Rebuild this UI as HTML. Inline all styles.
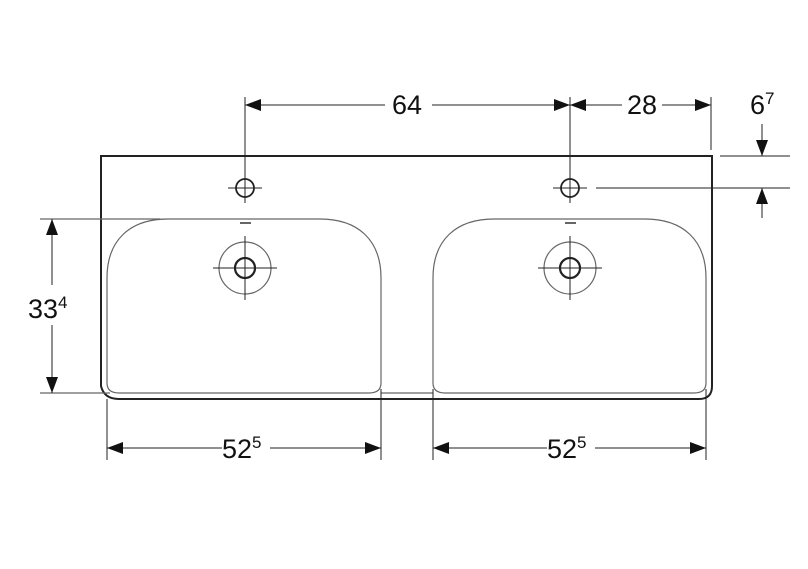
<!DOCTYPE html>
<html><head><style>body{margin:0;background:#fff}svg{display:block}text{font-family:"Liberation Sans",sans-serif;fill:#111}</style></head><body>
<svg width="808" height="569" viewBox="0 0 808 569" xmlns="http://www.w3.org/2000/svg">
<defs>
<marker id="a" viewBox="0 0 16 12" refX="16" refY="6" markerWidth="16" markerHeight="12" markerUnits="userSpaceOnUse" orient="auto-start-reverse"><path d="M0,0L16,6L0,12z" fill="#111"/></marker>
</defs>
<g fill="none" stroke="#222">
<!-- outer -->
<path d="M101,156 L712,156 L712,386 Q712,399 699,399 L119,399 Q104,399 101,386 Z" stroke-width="2"/>
<!-- basins -->
<g stroke="#666" stroke-width="1.2">
<path d="M107,383 L107,278 C107,240 130,219 168,219 L320,219 C358,219 381,240 381,278 L381,383 Q381,393 369,393 L119,393 Q107,393 107,383Z"/>
<path d="M433,383 L433,278 C433,240 456,219 494,219 L645,219 C683,219 706,240 706,278 L706,383 Q706,393 694,393 L445,393 Q433,393 433,383Z"/>
<line x1="381" y1="393" x2="433" y2="393"/>
<line x1="40" y1="393" x2="110" y2="393"/>
<line x1="40" y1="219" x2="160" y2="219"/>
<circle cx="245" cy="268" r="26"/><circle cx="570" cy="268" r="26"/>
<line x1="240" y1="223" x2="251" y2="223" stroke-width="2"/><line x1="565" y1="223" x2="576" y2="223" stroke-width="2"/>
</g>
<g stroke-width="2.2"><circle cx="245" cy="268" r="10"/><circle cx="570" cy="268" r="10"/></g>
<g stroke-width="1.8"><circle cx="245" cy="188" r="9"/><circle cx="570" cy="188" r="9"/></g>
<g stroke-width="1">
<line x1="213" y1="268" x2="277" y2="268"/><line x1="245" y1="236" x2="245" y2="300"/>
<line x1="538" y1="268" x2="602" y2="268"/><line x1="570" y1="236" x2="570" y2="300"/>
<line x1="228" y1="188" x2="262" y2="188"/><line x1="245" y1="97" x2="245" y2="203"/>
<line x1="553" y1="188" x2="587" y2="188"/><line x1="570" y1="97" x2="570" y2="203"/>
<line x1="711" y1="97" x2="711" y2="150"/>
<line x1="720" y1="156" x2="790" y2="156"/>
<line x1="596" y1="188" x2="790" y2="188"/>
<line x1="107" y1="399" x2="107" y2="460"/><line x1="381" y1="389" x2="381" y2="460"/>
<line x1="433" y1="389" x2="433" y2="460"/><line x1="706" y1="389" x2="706" y2="460"/>
</g>
<g stroke-width="1" stroke="#222">
<line x1="245" y1="105" x2="385" y2="105" marker-start="url(#a)"/>
<line x1="432" y1="105" x2="570" y2="105" marker-end="url(#a)"/>
<line x1="570" y1="105" x2="622" y2="105" marker-start="url(#a)"/>
<line x1="662" y1="105" x2="711" y2="105" marker-end="url(#a)"/>
<line x1="762" y1="124" x2="762" y2="156" marker-end="url(#a)"/>
<line x1="762" y1="188" x2="762" y2="218" marker-start="url(#a)"/>
<line x1="52" y1="219" x2="52" y2="285" marker-start="url(#a)"/>
<line x1="52" y1="325" x2="52" y2="393" marker-end="url(#a)"/>
<line x1="107" y1="448" x2="222" y2="448" marker-start="url(#a)"/>
<line x1="270" y1="448" x2="381" y2="448" marker-end="url(#a)"/>
<line x1="433" y1="448" x2="547" y2="448" marker-start="url(#a)"/>
<line x1="595" y1="448" x2="706" y2="448" marker-end="url(#a)"/>
</g>
</g>
<text x="407" y="114" font-size="27" text-anchor="middle">64</text>
<text x="642" y="114" font-size="27" text-anchor="middle">28</text>
<text x="750" y="114" font-size="27">6<tspan font-size="17" dy="-10">7</tspan></text>
<text x="28" y="318" font-size="27">33<tspan font-size="17" dy="-10">4</tspan></text>
<text x="222" y="458" font-size="27">52<tspan font-size="17" dy="-10">5</tspan></text>
<text x="547" y="458" font-size="27">52<tspan font-size="17" dy="-10">5</tspan></text>
</svg>
</body></html>
